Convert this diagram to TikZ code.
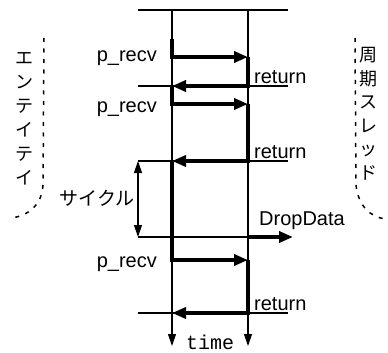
\documentclass[tikz,border=0pt]{standalone}
\usepackage{fontspec}
\setmainfont{Liberation Sans}
\newfontfamily\jpfont{Noto Sans CJK JP}
\newfontfamily\ttjp{Liberation Mono}
\usetikzlibrary{arrows.meta}
\tikzset{
  tline/.style={line width=1.2pt},
  bline/.style={line width=3.6pt, line join=miter},
  barrow/.style={bline, -{Triangle[length=14pt,width=11pt]}},
  tarrow/.style={tline, -{Triangle[length=12pt,width=8pt]}},
  darrow/.style={tline, {Triangle[length=12pt,width=8pt]}-{Triangle[length=12pt,width=8pt]}},
  lbl/.style={font=\fontsize{20}{22}\selectfont, inner sep=0pt},
  jlbl/.style={font=\jpfont\fontsize{18}{24}\selectfont, inner sep=0pt, align=center},
  bracket/.style={line width=1.5pt, dash pattern=on 4pt off 6.5pt},
}
\begin{document}
\begin{tikzpicture}[x=1pt,y=-1pt]
\useasboundingbox (0,0) rectangle (388,353);
% time lines
\coordinate (Ltop) at (172,10);
\coordinate (Lbot) at (172,346);
\coordinate (Rtop) at (248,10);
\coordinate (Rbot) at (248,346);
\coordinate (topA) at (138,10);
\coordinate (topB) at (288,10);
\draw[tline] (topA) -- (topB);
\draw[tarrow] (Ltop) -- (Lbot);
\draw[tarrow] (Rtop) -- (Rbot);
% thin extension lines
\coordinate (r1a) at (138,86);  \coordinate (r1b) at (288,86);
\coordinate (r2a) at (138,161); \coordinate (r2b) at (288,161);
\coordinate (r3a) at (138,313); \coordinate (r3b) at (288,313);
\coordinate (dA) at (138,237);  \coordinate (dR) at (248,237);
\coordinate (dB) at (293,237);
\draw[tline] (r1a) -- (r1b);
\draw[tline] (r2a) -- (r2b);
\draw[tline] (r3a) -- (r3b);
\draw[tline] (dA) -- (dR);
\draw[barrow] (dR) -- (dB);
% control flow
\coordinate (s0) at (172,39);
\coordinate (s1) at (172,57);  \coordinate (e1) at (248,57);
\coordinate (e2) at (248,86);  \coordinate (s2) at (172,86);
\coordinate (s3) at (172,104); \coordinate (e3) at (248,104);
\coordinate (e4) at (248,161); \coordinate (s4) at (172,161);
\coordinate (s5) at (172,260); \coordinate (e5) at (248,260);
\coordinate (e6) at (248,313); \coordinate (s6) at (172,313);
\draw[barrow] (s0) -- (s1) -- (e1);
\draw[barrow] (e1) -- (e2) -- (s2);
\draw[barrow] (s2) -- (s3) -- (e3);
\draw[barrow] (e3) -- (e4) -- (s4);
\draw[barrow] (s4) -- (s5) -- (e5);
\draw[barrow] (e5) -- (e6) -- (s6);
% cycle
\draw[darrow] (r2a) -- (dA);
\node[font=\jpfont\fontsize{19}{20}\selectfont, inner sep=0pt] (cyc) at (97,198) {サイクル};
% labels
\node[lbl, anchor=base east] (p1) at (157,62) {p\_recv};
\node[lbl, anchor=base east] (p2) at (157,112) {p\_recv};
\node[lbl, anchor=base east] (p3) at (157,267) {p\_recv};
\node[lbl, anchor=base west] (rt1) at (254,83) {return};
\node[lbl, anchor=base west] (rt2) at (254,158) {return};
\node[lbl, anchor=base west] (rt3) at (254,310) {return};
\node[lbl, anchor=base west] (dd) at (259,225) {DropData};
\node[font=\ttjp\fontsize{20}{22}\selectfont, inner sep=0pt, anchor=base west] (tm) at (186,349) {time};
% side labels
\node[jlbl] (ent) at (25,119) {エ\\ン\\テ\\イ\\テ\\イ};
\node[jlbl, font=\jpfont\fontsize{18}{23.5}\selectfont] (thr) at (368,114) {周\\期\\ス\\レ\\ッ\\ド};
% dash brackets
\coordinate (bl0) at (44,38);
\coordinate (bl1) at (43,185);
\coordinate (bl2) at (11,218);
\draw[bracket] (bl0) -- (bl1) .. controls (42,205) and (28,216) .. (bl2);
\coordinate (br0) at (355,38);
\coordinate (br1) at (356,185);
\coordinate (br2) at (387,219);
\draw[bracket] (br0) -- (br1) .. controls (358,205) and (370,218) .. (br2);
\end{tikzpicture}
\end{document}
